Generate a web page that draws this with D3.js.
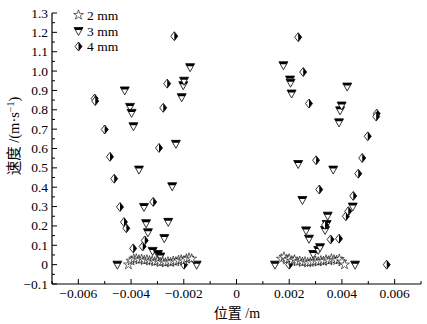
<!DOCTYPE html>
<html><head><meta charset="utf-8">
<script src="https://cdn.jsdelivr.net/npm/d3@7"></script>
<style>body{margin:0;background:#fff}svg{display:block}</style>
</head><body>
<script>
// ---- data ----
const seriesNames = ["2 mm", "3 mm", "4 mm"];
const xTickValues = [-0.006, -0.004, -0.002, 0, 0.002, 0.004, 0.006];
const yTickValues = [-0.1, 0, 0.1, 0.2, 0.3, 0.4, 0.5, 0.6, 0.7, 0.8, 0.9, 1.0, 1.1, 1.2, 1.3];
const yTickLabels = ["\u22120.1","0","0.1","0.2","0.3","0.4","0.5","0.6","0.7","0.8","0.9","1.0","1.1","1.2","1.3"];
const xTickLabels = ["\u22120.006","\u22120.004","\u22120.002","0","0.002","0.004","0.006"];

const star2mm = [
  [-0.0041,0.0],[-0.0040,0.02],[-0.0039,0.03],[-0.0038,0.03],[-0.0037,0.025],[-0.0036,0.028],
  [-0.0035,0.022],[-0.0034,0.025],[-0.0033,0.02],[-0.0032,0.02],[-0.0031,0.015],[-0.0030,0.018],
  [-0.0029,0.012],[-0.0028,0.015],[-0.0027,0.01],[-0.0026,0.015],[-0.0025,0.012],[-0.0024,0.018],
  [-0.0023,0.015],[-0.0022,0.022],[-0.0021,0.025],[-0.0020,0.02],[-0.0019,0.03],[-0.0018,0.035],[-0.0017,0.03],
  [0.0017,0.03],[0.0018,0.04],[0.0019,0.025],[0.0020,0.03],[0.0021,0.02],[0.0022,0.025],[0.0023,0.015],
  [0.0024,0.018],[0.0025,0.012],[0.0026,0.015],[0.0027,0.01],[0.0028,0.012],[0.0029,0.015],[0.0030,0.018],
  [0.0031,0.015],[0.0032,0.02],[0.0033,0.018],[0.0034,0.025],[0.0035,0.02],[0.0036,0.03],[0.0037,0.025],
  [0.0038,0.022],[0.0039,0.028],[0.0040,0.015],[0.0041,0.0]
];
const tri3mm = [
  [-0.00452,0.0],[-0.00424,0.90],[-0.00404,0.815],[-0.00398,0.784],[-0.00391,0.715],[-0.0037,0.491],
  [-0.00351,0.298],[-0.00343,0.214],[-0.00336,0.167],[-0.00318,0.071],[-0.00298,0.055],[-0.00289,0.042],
  [-0.00274,0.137],[-0.00259,0.221],[-0.00244,0.405],[-0.0023,0.624],[-0.00208,0.865],[-0.00202,0.927],
  [-0.00199,0.95],[-0.00176,1.02],[-0.00151,0.0],
  [0.00146,0.0],[0.00178,1.03],[0.00203,0.956],[0.00205,0.94],[0.00209,0.884],[0.00234,0.52],
  [0.0025,0.334],[0.00264,0.177],[0.00275,0.134],[0.00291,0.055],[0.0031,0.076],[0.00317,0.09],
  [0.00336,0.179],[0.00342,0.21],[0.00346,0.253],[0.00367,0.491],[0.00389,0.735],[0.00393,0.797],
  [0.00399,0.822],[0.0042,0.92],[0.00441,0.30],[0.0045,0.0]
];
const dia4mm = [
  [-0.00538,0.858],[-0.00536,0.845],[-0.0050,0.698],[-0.0048,0.557],[-0.00464,0.444],[-0.00442,0.298],
  [-0.00427,0.22],[-0.00418,0.188],[-0.00392,0.084],[-0.00356,0.094],[-0.00348,0.125],[-0.00316,0.324],
  [-0.00294,0.603],[-0.00278,0.81],[-0.00263,0.935],[-0.00236,1.18],[-0.00199,0.0],
  [0.002,0.0],[0.00234,1.175],[0.00253,0.995],[0.00275,0.832],[0.00302,0.539],[0.00314,0.388],
  [0.00336,0.205],[0.00357,0.13],[0.00389,0.134],[0.00415,0.25],[0.00424,0.276],[0.00443,0.355],
  [0.00462,0.47],[0.00477,0.551],[0.00498,0.663],[0.00532,0.78],[0.0053,0.765],[0.0057,0.0]
];

// ---- chart ----
const W = 427, H = 324;
const svg = d3.select("body").append("svg").attr("width", W).attr("height", H);
const x = d3.scaleLinear().domain([-0.007, 0.007]).range([52, 421]);
const y = d3.scaleLinear().domain([-0.1, 1.3]).range([284, 13]);
const serif = "'Liberation Serif','Times New Roman',serif";
const ink = "#000";

// axes
const gx = svg.append("g");
gx.append("line").attr("x1", x.range()[0]).attr("x2", x.range()[1]).attr("y1", 284).attr("y2", 284).attr("stroke", ink).attr("stroke-width", 1.2);
d3.range(-7, 8).forEach(k => {
  const v = k * 0.001, major = (k % 2 === 0);
  gx.append("line").attr("x1", x(v)).attr("x2", x(v)).attr("y1", 284).attr("y2", 284 - (major ? 5 : 3)).attr("stroke", ink).attr("stroke-width", 1);
});
gx.selectAll("text.xt").data(xTickValues).join("text").attr("class", "xt")
  .attr("x", d => x(d)).attr("y", 298).attr("text-anchor", "middle")
  .attr("font-family", serif).attr("font-size", "13.5px").attr("fill", ink)
  .text((d, i) => xTickLabels[i]);

const gy = svg.append("g");
gy.append("line").attr("x1", 52).attr("x2", 52).attr("y1", y(-0.1)).attr("y2", y(1.3)).attr("stroke", ink).attr("stroke-width", 1.2);
d3.range(-2, 27).forEach(k => {
  const v = k * 0.05, major = (k % 2 === 0);
  gy.append("line").attr("x1", 52).attr("x2", 52 + (major ? 5 : 3)).attr("y1", y(v)).attr("y2", y(v)).attr("stroke", ink).attr("stroke-width", 1);
});
gy.selectAll("text.yt").data(yTickValues).join("text").attr("class", "yt")
  .attr("x", 48).attr("y", d => y(d) + 4.5).attr("text-anchor", "end")
  .attr("font-family", serif).attr("font-size", "13.5px").attr("fill", ink)
  .text((d, i) => yTickLabels[i]);

// axis titles
svg.append("text").attr("x", 237).attr("y", 318).attr("text-anchor", "middle")
  .attr("font-size", "14px").attr("fill", ink)
  .html("<tspan font-family=\"'Noto Sans CJK SC'\">位置</tspan><tspan font-family=\"Liberation Serif\"> /m</tspan>");
svg.append("text").attr("transform", "translate(19,136) rotate(-90)").attr("text-anchor", "middle")
  .attr("font-size", "14.5px").attr("fill", ink)
  .html("<tspan font-family=\"'Noto Sans CJK SC'\">速度</tspan><tspan font-family=\"Liberation Serif\"> /(m·s</tspan><tspan font-family=\"Liberation Serif\" font-size=\"10px\" dy=\"-5\">\u22121</tspan><tspan font-family=\"Liberation Serif\" dy=\"5\">)</tspan>");

// markers
const starPath = d3.symbol().type(d3.symbolStar).size(30)();
function drawStar(g) {
  g.append("path").attr("d", starPath).attr("fill", "#fff").attr("stroke", ink).attr("stroke-width", 0.6);
}
function drawTri(g) {
  g.append("path").attr("d", "M-4.5,-3.5L4.5,-3.5L0,4.5Z").attr("fill", "#fff").attr("stroke", ink).attr("stroke-width", 0.8);
  g.append("path").attr("d", "M-4.5,-3.5L4.5,-3.5L3.1,-1L-3.1,-1Z").attr("fill", ink);
}
function drawDia(g) {
  g.append("path").attr("d", "M0,-4.5L3.5,0L0,4.5L-3.5,0Z").attr("fill", "#fff").attr("stroke", ink).attr("stroke-width", 0.8);
  g.append("path").attr("d", "M0,-4.5L3.5,0L0,4.5Z").attr("fill", ink);
}

const plot = svg.append("g");
tri3mm.forEach(d => drawTri(plot.append("g").attr("transform", `translate(${x(d[0])},${y(d[1])})`)));
dia4mm.forEach(d => drawDia(plot.append("g").attr("transform", `translate(${x(d[0])},${y(d[1])})`)));
star2mm.forEach(d => drawStar(plot.append("g").attr("transform", `translate(${x(d[0])},${y(d[1])})`)));

// legend
const legend = svg.append("g");
const drawers = [drawStar, drawTri, drawDia];
const ly = [15, 31, 46.5];
seriesNames.forEach((name, i) => {
  drawers[i](legend.append("g").attr("transform", `translate(78.5,${ly[i]})`));
  legend.append("text").attr("x", 87).attr("y", ly[i] + 4.5)
    .attr("font-family", serif).attr("font-size", "13.5px").attr("fill", ink).text(name);
});
</script>
</body></html>
